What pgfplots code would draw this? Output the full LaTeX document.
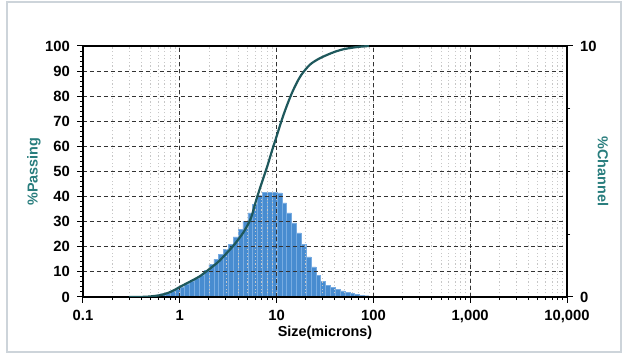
\documentclass[border=0pt]{standalone}
\usepackage{fontspec}
\setmainfont{Liberation Sans}
\usepackage{pgfplots}
\usepackage{pgfplotstable}
\pgfplotsset{compat=1.18}
\definecolor{teal1}{RGB}{30,88,92}
\definecolor{labteal}{RGB}{40,125,125}
\definecolor{histblue}{RGB}{72,140,208}
\definecolor{histedge}{RGB}{120,172,225}
\definecolor{framec}{RGB}{205,212,218}

\pgfplotstableread{
x y
0.561 0.08
0.630 0.13
0.707 0.17
0.794 0.24
0.891 0.31
1.000 0.40
1.122 0.50
1.260 0.61
1.414 0.73
1.587 0.87
1.782 1.05
2.000 1.30
2.245 1.50
2.520 1.70
2.828 1.90
3.175 2.10
3.564 2.40
4.000 2.70
4.490 3.00
5.040 3.35
5.657 3.70
6.350 4.05
7.127 4.17
8.000 4.18
8.980 4.18
10.08 4.15
11.31 3.75
12.70 3.35
14.25 2.95
16.00 2.55
17.96 2.10
20.16 1.60
22.63 1.20
25.40 0.85
28.51 0.62
32.00 0.47
35.92 0.38
40.32 0.30
45.25 0.24
50.80 0.19
57.02 0.14
64.00 0.10
71.84 0.07
80.63 0.05
90.51 0
}\histdata

\pgfplotstableread{
x y
0.3 0
0.45 0.1
0.6 0.6
0.7 1.2
0.8 2
0.9 3
1.0 4
1.2 5.6
1.6 8.2
2.0 11
2.5 14
3.0 17.2
3.5 20
4.0 22.8
4.5 25.5
5.0 28.5
5.5 32
6.2 39
7.1 46
8.0 52
9.0 58.5
10 64
11.3 70.5
12.7 76
14.3 81
16 85
18 88.5
22 92.5
27 94.8
33 96.4
40 97.7
49 98.7
60 99.3
72 99.7
90 100
}\cumdata

\begin{document}
\begin{tikzpicture}
\useasboundingbox (0,0) rectangle (314pt,179pt);
\fill[white] (0,0) rectangle (314pt,179pt);
\draw[framec, line width=0.6pt] (3.5pt,3pt) rectangle (310.5pt,178pt);

% histogram on the right (% Channel) axis
\begin{axis}[
  xmode=log, xmin=0.1, xmax=10000,
  at={(41.5pt,30.5pt)}, anchor=south west,
  scale only axis, width=242pt, height=125.5pt,
  tick label style={font=\fontsize{7.4}{8}\selectfont\bfseries},
  tick align=outside,
  major tick length=3pt, minor tick length=1.6pt,
  every tick/.style={black, line width=0.5pt},
  axis line style={black, line width=0.75pt},
  axis x line=none, axis y line*=right,
  ymin=0, ymax=10, ytick={0,10}, minor ytick={2.5,5,7.5},
  ylabel={\%Channel},
  every axis y label/.style={at={(rel axis cs:1,0.5)}, rotate=-90, anchor=center, yshift=18pt,
     font=\fontsize{7.2}{8}\selectfont\bfseries, text=labteal},
  /pgf/number format/assume math mode=true,
]
\addplot[ybar interval, fill=histblue, draw=histedge, line width=0.2pt] table[x=x,y=y] {\histdata};
\end{axis}

% main axis (% Passing)
\begin{axis}[
  xmode=log, xmin=0.1, xmax=10000,
  at={(41.5pt,30.5pt)}, anchor=south west,
  scale only axis, width=242pt, height=125.5pt,
  tick label style={font=\fontsize{7.4}{8}\selectfont\bfseries},
  tick align=outside,
  major tick length=3pt, minor tick length=1.6pt,
  every tick/.style={black, line width=0.5pt},
  axis line style={black, line width=0.75pt},
  ymin=0, ymax=100, ytick={0,10,...,100}, minor y tick num=4,
  xtick={0.1,1,10,100,1000,10000},
  xticklabels={0.1,1,10,100,{1,000},{10,000}},
  xtick pos=bottom, ytick pos=left,
  xmajorgrids=true, ymajorgrids=true, xminorgrids=true,
  major grid style={dash pattern=on 2pt off 1.5pt, black!80, line width=0.55pt},
  minor grid style={dash pattern=on 0.6pt off 1.2pt, black!22, line width=0.4pt},
  ylabel={\%Passing},
  every axis y label/.style={at={(rel axis cs:0,0.5)}, rotate=90, anchor=center, yshift=24.5pt,
     font=\fontsize{7.2}{8}\selectfont\bfseries, text=labteal},
  xlabel={Size(microns)},
  every axis x label/.style={at={(rel axis cs:0.5,0)}, anchor=center, yshift=-18pt,
     font=\fontsize{7.2}{8}\selectfont\bfseries},
  /pgf/number format/assume math mode=true,
]
\addplot[teal1, line width=1.1pt, smooth] table[x=x,y=y] {\cumdata};
\end{axis}
\end{tikzpicture}
\end{document}
